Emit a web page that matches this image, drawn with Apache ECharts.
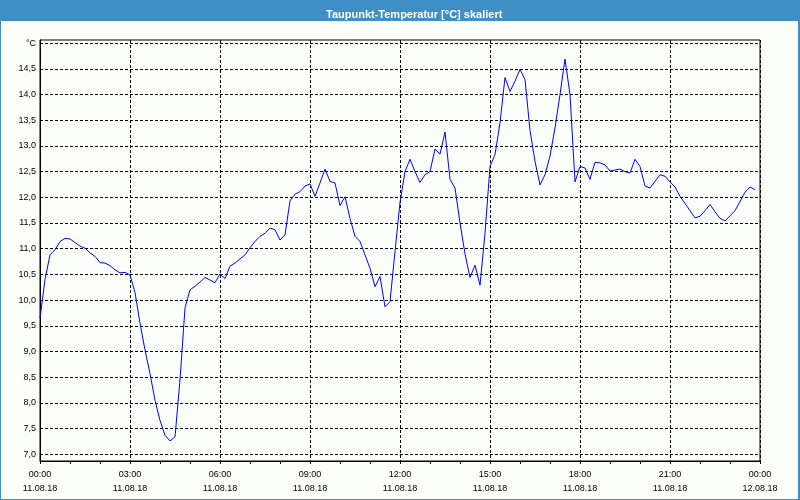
<!DOCTYPE html>
<html>
<head>
<meta charset="utf-8">
<script src="https://cdn.jsdelivr.net/npm/echarts@6/dist/echarts.min.js"></script>
<style>
html,body{margin:0;padding:0;background:#fcfefc;}
#chart{width:800px;height:500px;}
</style>
</head>
<body>
<div id="chart"></div>
<script>
// ---- data ----
var chartTitle = 'Taupunkt-Temperatur [°C] skaliert';
var stepMinutes = 10; // one reading every 10 minutes from 11.08.18 00:00
var dewPoint = [
 9.65,10.40,10.88,10.98,11.14,11.20,11.19,11.12,11.05,11.01,
 10.92,10.85,10.73,10.72,10.67,10.59,10.53,10.54,10.49,10.15,
 9.55,9.03,8.57,8.05,7.66,7.37,7.26,7.34,8.45,9.85,
 10.20,10.27,10.35,10.44,10.39,10.34,10.51,10.42,10.66,10.72,
 10.80,10.88,11.02,11.14,11.24,11.30,11.40,11.37,11.17,11.27,
 11.93,12.06,12.11,12.22,12.26,12.02,12.28,12.55,12.31,12.28,
 11.84,12.01,11.59,11.24,11.14,10.88,10.62,10.26,10.46,9.87,
 9.97,10.95,11.90,12.50,12.74,12.50,12.29,12.44,12.50,12.94,
 12.84,13.27,12.35,12.18,11.50,10.90,10.44,10.68,10.29,11.30,
 12.60,12.83,13.45,14.33,14.06,14.26,14.49,14.29,13.30,12.70,
 12.24,12.44,12.80,13.35,14.00,14.69,14.00,12.30,12.60,12.57,
 12.35,12.68,12.67,12.63,12.51,12.53,12.55,12.50,12.47,12.74,
 12.60,12.22,12.18,12.31,12.44,12.41,12.30,12.20,12.02,11.88,
 11.74,11.60,11.63,11.74,11.86,11.72,11.59,11.54,11.64,11.74,
 11.92,12.10,12.20,12.15
];
var xTickValues = [0,180,360,540,720,900,1080,1260,1440];
var xTickLabels = ['00:00\n11.08.18','03:00\n11.08.18','06:00\n11.08.18','09:00\n11.08.18',
  '12:00\n11.08.18','15:00\n11.08.18','18:00\n11.08.18','21:00\n11.08.18','00:00\n12.08.18'];
var yTickValues = [7,7.5,8,8.5,9,9.5,10,10.5,11,11.5,12,12.5,13,13.5,14,14.5,15];
var yTickLabels = ['7,0','7,5','8,0','8,5','9,0','9,5','10,0','10,5','11,0','11,5',
  '12,0','12,5','13,0','13,5','14,0','14,5','°C'];

var seriesData = dewPoint.map(function(v,i){ return [i*stepMinutes, v]; });

var chart = echarts.init(document.getElementById('chart'), null, {renderer:'canvas'});
var font = 'Liberation Sans';
chart.setOption({
  animation:false,
  backgroundColor:'#fcfefc',
  title:{
    text:chartTitle, left:321, top:4,
    textStyle:{color:'#ffffff', fontSize:11, fontWeight:'bold', fontFamily:font}
  },
  graphic:[
    {type:'rect', shape:{x:0,y:0,width:800,height:21}, style:{fill:'#3d8fc6'}, z:-1},
    {type:'rect', shape:{x:0,y:0,width:1,height:500}, style:{fill:'#3d8fc6'}},
    {type:'rect', shape:{x:798,y:0,width:2,height:500}, style:{fill:'#3d8fc6'}},
    {type:'rect', shape:{x:0,y:499,width:800,height:1}, style:{fill:'#3d8fc6'}}
  ],
  grid:{left:40,right:40,top:40,bottom:39,show:true,borderColor:'#000',borderWidth:1,backgroundColor:'transparent'},
  xAxis:{
    type:'value', min:0, max:1440, interval:180,
    axisLine:{show:true, lineStyle:{color:'#000', width:1}},
    axisTick:{show:true, length:3, lineStyle:{color:'#000'}},
    minorTick:{show:true, splitNumber:3, length:3, lineStyle:{color:'#000'}},
    axisLabel:{
      margin:7, color:'#000', fontSize:9, fontFamily:font, lineHeight:14,
      formatter:function(v){ var i = xTickValues.indexOf(v); return i>=0 ? xTickLabels[i] : ''; },
      showMinLabel:true, showMaxLabel:true
    },
    splitLine:{show:true, lineStyle:{color:'#000', type:[3,2], width:1}}
  },
  yAxis:{
    type:'value', min:6.87, max:15.06,
    axisLine:{show:true, lineStyle:{color:'#000', width:1}},
    axisTick:{show:false, customValues:yTickValues},
    axisLabel:{
      customValues:yTickValues, margin:4, color:'#000', fontSize:9, fontFamily:font,
      formatter:function(v){ var i = yTickValues.indexOf(Math.round(v*10)/10); return i>=0 ? yTickLabels[i] : ''; }
    },
    splitLine:{show:true, lineStyle:{color:'#000', type:[3,2], width:1}}
  },
  series:[{
    type:'line', data:seriesData, showSymbol:false, symbol:'none',
    lineStyle:{color:'#0000ff', width:1}, silent:true
  }]
});
</script>
</body>
</html>
